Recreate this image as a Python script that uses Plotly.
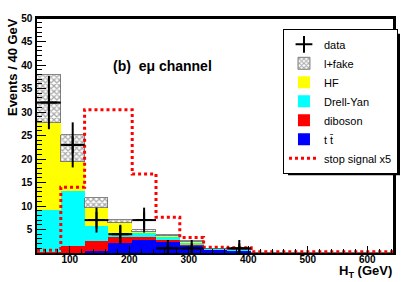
import plotly.graph_objects as go

# ---- data ----
bin_edges = [45, 85, 125, 165, 205, 245, 285, 325, 365, 405, 445, 485, 525, 565, 605, 645]
ttbar   = [0.05, 0.1, 0.5, 2.2, 2.7, 2.5, 1.55, 0.7, 0.5, 0, 0, 0, 0, 0, 0]
diboson = [0.15, 1.4, 2.1, 1.1, 0.8, 0.3, 0.15, 0.05, 0.02, 0, 0, 0, 0, 0, 0]
drellyan = [9.0, 11.7, 3.1, 1.0, 0.8, 0.7, 0.6, 0.05, 0.03, 0, 0, 0, 0, 0, 0]
hf      = [18.4, 6.1, 3.8, 2.1, 0.1, 0.1, 0.05, 0, 0, 0, 0, 0, 0, 0, 0]
lfake   = [10.2, 5.9, 2.3, 0.6, 0.4, 0.2, 0.15, 0, 0, 0, 0, 0, 0, 0, 0]
signal_x5 = [0.6, 14.0, 30.5, 30.5, 16.8, 7.6, 3.3, 1.2, 1.1, 0.25, 0.25, 0.25, 0.25, 0.25, 0.25]
data_counts = [32, 23, 7, 4, 7, 1, 1, 0, 1, 0, 0, 0, 0, 0, 0]
x_ticks = [100, 200, 300, 400, 500, 600]
y_ticks = [5, 10, 15, 20, 25, 30, 35, 40, 45, 50]

centers = [(a + b) / 2 for a, b in zip(bin_edges[:-1], bin_edges[1:])]
widths = [b - a for a, b in zip(bin_edges[:-1], bin_edges[1:])]

FONT = "Arial, Liberation Sans, Helvetica, sans-serif"
fig = go.Figure()

def add_bar(vals, name, color, rank, pattern=None):
    marker = dict(color=color, line=dict(width=0))
    if pattern:
        marker = dict(color="white", line=dict(width=0.8, color="#666666"), pattern=pattern)
    fig.add_trace(go.Bar(x=centers, y=vals, width=widths, name=name, marker=marker,
                         legendrank=rank))

add_bar(ttbar, "t t\u0304", "#0000ff", 6)
add_bar(diboson, "diboson", "#ff0000", 5)
add_bar(drellyan, "Drell-Yan", "#00ffff", 4)
add_bar(hf, "HF", "#ffff00", 3)
add_bar(lfake, "l+fake", "white", 2,
        pattern=dict(shape="x", fgcolor="#555555", bgcolor="white", size=4, solidity=0.55))

# stop signal as step line
fig.add_trace(go.Scatter(x=bin_edges, y=signal_x5 + [signal_x5[-1]], mode="lines",
                         line=dict(shape="hv", color="#ff0000", width=3, dash="dot"),
                         name="stop signal x5", legendrank=7))

# data
dx = [c for c, n in zip(centers, data_counts) if n > 0]
dy = [n for n in data_counts if n > 0]
dw = [w / 2 for w, n in zip(widths, data_counts) if n > 0]
de = [n ** 0.5 for n in dy]
fig.add_trace(go.Scatter(x=dx, y=dy, mode="markers", name="data",
                         marker=dict(symbol="cross-thin", size=12, color="black",
                                     line=dict(width=2, color="black")),
                         error_x=dict(type="data", array=dw, color="black", thickness=2, width=0),
                         error_y=dict(type="data", array=de, color="black", thickness=2, width=0),
                         legendrank=1))

fig.update_layout(
    width=415, height=282,
    margin=dict(l=37, r=21, t=14, b=29),
    paper_bgcolor="white", plot_bgcolor="white",
    barmode="stack", bargap=0,
    font=dict(family=FONT, size=11, color="black"),
    showlegend=True,
    legend=dict(x=0.689, y=0.954, xanchor="left", yanchor="top",
                bgcolor="white", bordercolor="black", borderwidth=1,
                font=dict(family=FONT, size=11), tracegroupgap=0,
                traceorder="normal", itemwidth=30),
)
fig.update_xaxes(range=[45, 645], tickvals=x_ticks, ticktext=[str(v) for v in x_ticks],
                 ticks="inside", ticklen=7, tickwidth=1, tickcolor="black",
                 minor=dict(dtick=20, tick0=0, ticks="inside", ticklen=4, tickcolor="black"),
                 showline=True, linecolor="black", linewidth=1.5, mirror=True,
                 showgrid=False, zeroline=False,
                 tickfont=dict(family=FONT, size=10, weight="bold"), ticklabelstandoff=-4)
fig.update_yaxes(range=[0, 50], tickvals=y_ticks, ticktext=[str(v) for v in y_ticks],
                 ticks="inside", ticklen=9, tickwidth=1, tickcolor="black",
                 minor=dict(dtick=1, tick0=0, ticks="inside", ticklen=5, tickcolor="black"),
                 showline=True, linecolor="black", linewidth=1.5, mirror=True,
                 showgrid=False, zeroline=False,
                 tickfont=dict(family=FONT, size=10, weight="bold"), ticklabelstandoff=1)

# heavier top/right frame lines
fig.add_shape(type="line", xref="paper", yref="paper", x0=0, x1=1, y0=1, y1=1,
              line=dict(color="black", width=2))
fig.add_shape(type="line", xref="paper", yref="paper", x0=1, x1=1, y0=0, y1=1,
              line=dict(color="black", width=2))

# legend shadow
fig.add_shape(type="rect", xref="paper", yref="paper", layer="above",
              x0=(288 - 37) / 357, x1=(400 - 37) / 357,
              y0=(253 - 174) / 239, y1=(253 - 30) / 239,
              fillcolor="black", line=dict(width=0))

fig.add_annotation(text="(b)\u00a0\u00a0e\u03bc channel", xref="paper", yref="paper",
                   x=(111 - 37) / 357, y=(253 - 63) / 239, xanchor="left", yanchor="middle",
                   showarrow=False, font=dict(family=FONT, size=14, weight="bold"))
fig.add_annotation(text="Events / 40 GeV", xref="paper", yref="paper",
                   x=(12 - 37) / 357, y=(253 - 12) / 239, xanchor="center", yanchor="top",
                   textangle=-90, showarrow=False,
                   font=dict(family=FONT, size=13, weight="bold"))
fig.add_annotation(text="H<sub>T</sub> (GeV)", xref="paper", yref="paper",
                   x=1.0, y=(253 - 272) / 239, xanchor="right", yanchor="middle",
                   showarrow=False, font=dict(family=FONT, size=13, weight="bold"))

fig.write_html("out.html", config={"displayModeBar": False},
               post_script="document.body.style.margin='0px';")
